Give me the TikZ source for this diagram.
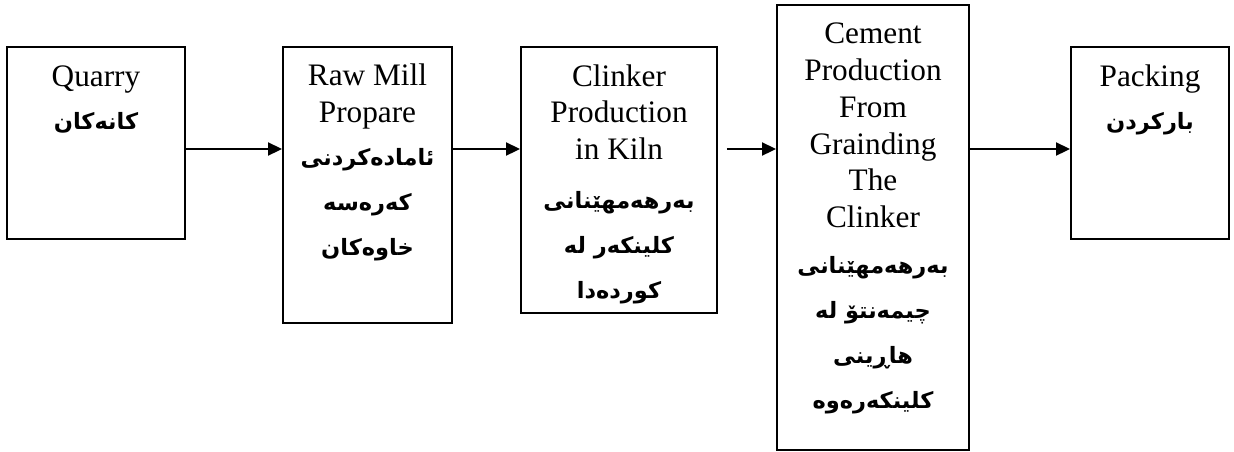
\documentclass[tikz,border=0pt]{standalone}
\usepackage{fontspec}
\setmainfont{Liberation Serif}
\newfontfamily\kurdfont[Script=Arabic]{DejaVu Sans}
\TeXXeTstate=1
\usepackage{tikz}
\usetikzlibrary{arrows.meta}
\usetikzlibrary{positioning}
\tikzset{box/.style = {draw, line width = 1.1pt, inner sep = 0}}
\tikzset{en/.style = {align = center, inner sep = 0, font = \fontsize{17.8}{20.9}\selectfont}}
\tikzset{ku/.style = {align = center, inner sep = 0, font = \kurdfont\bfseries\fontsize{12.8}{25.6}\selectfont}}
\tikzset{flow/.style = {line width = 1.1pt, -{Triangle[length = 0.28cm, width = 0.26cm]}}}
\newcommand{\kline}[1]{\beginR #1\endR}

\begin{document}
\begin{tikzpicture}[x = 0.02cm, y = -0.02cm]
      \useasboundingbox (0, 0) rectangle (1234, 451);
      \coordinate (flowy) at (0, 149);
      % boxes
      \node [box, minimum width = 3.56cm, minimum height = 3.84cm] (quarry) at (96, 143) {};
      \node [box, minimum width = 3.38cm, minimum height = 5.52cm] (rawmill) at (367.5, 185) {};
      \node [box, minimum width = 3.92cm, minimum height = 5.32cm] (clinker) at (619, 180) {};
      \node [box, minimum width = 3.84cm, minimum height = 8.90cm] (cement) at (873, 227.5) {};
      \node [box, minimum width = 3.16cm, minimum height = 3.84cm] (packing) at (1150, 143) {};
      % english text (base = last line)
      \node [en, anchor = base] (quarryen) at ([yshift = -0.8cm] quarry.north) {Quarry};
      \node [en, anchor = base] (rawmillen) at ([yshift = -1.53cm] rawmill.north) {Raw Mill\\Propare};
      \node [en, anchor = base] (clinkeren) at ([yshift = -2.27cm] clinker.north) {Clinker\\Production\\in Kiln};
      \node [en, anchor = base] (cementen) at ([yshift = -4.47cm] cement.north) {Cement\\Production\\From\\Grainding\\The\\Clinker};
      \node [en, anchor = base] (packingen) at ([yshift = -0.8cm] packing.north) {Packing};
      % kurdish text
      \node [ku, anchor = base] (quarryku) at ([yshift = -1.66cm] quarry.north) {\kline{کانەکان}};
      \node [ku, anchor = base] (rawmillku) at ([yshift = -4.18cm] rawmill.north) {\kline{ئامادەکردنی}\\\kline{کەرەسە}\\\kline{خاوەکان}};
      \node [ku, anchor = base] (clinkerku) at ([yshift = -5.04cm] clinker.north) {\kline{بەرهەمهێنانی}\\\kline{کلینکەر لە}\\\kline{کوردەدا}};
      \node [ku, anchor = base] (cementku) at ([yshift = -8.08cm] cement.north) {\kline{بەرهەمهێنانی}\\\kline{چیمەنتۆ لە}\\\kline{هاڕینی}\\\kline{کلینکەرەوە}};
      \node [ku, anchor = base] (packingku) at ([yshift = -1.66cm] packing.north) {\kline{بارکردن}};
      % arrows
      \draw [flow] (quarry.east |- flowy) -- (rawmill.west |- flowy);
      \draw [flow] (rawmill.east |- flowy) -- (clinker.west |- flowy);
      \draw [flow, shorten < = 0.18cm] (clinker.east |- flowy) -- (cement.west |- flowy);
      \draw [flow] (cement.east |- flowy) -- (packing.west |- flowy);
    \end{tikzpicture}
\end{document}
